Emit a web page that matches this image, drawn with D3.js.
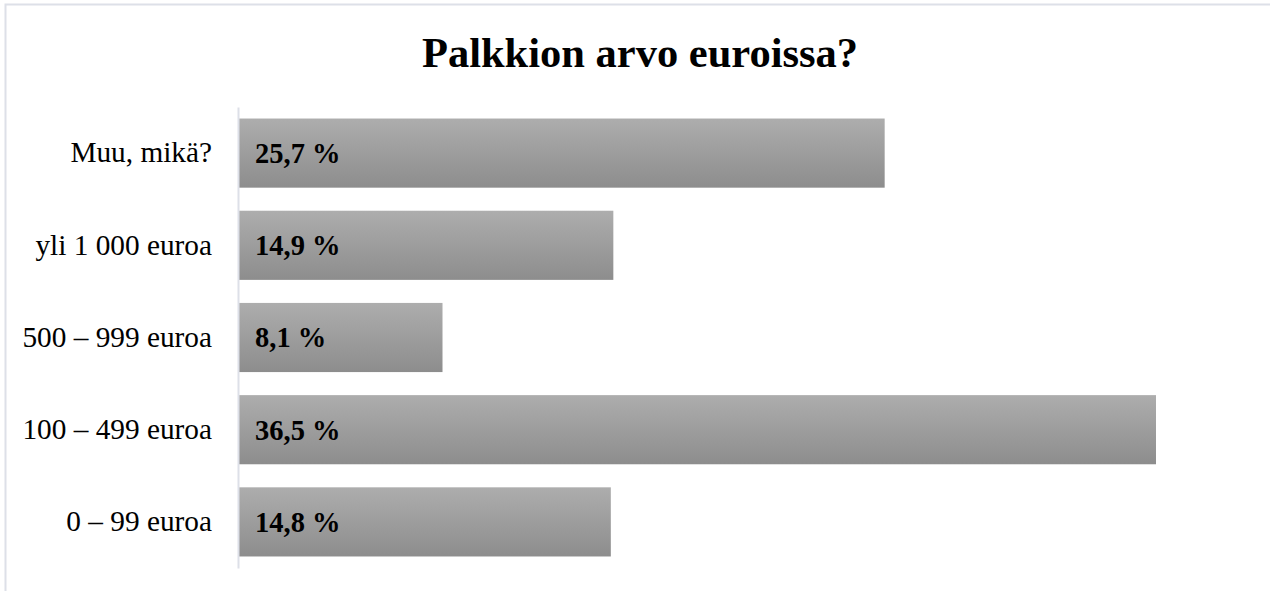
<!DOCTYPE html>
<html>
<head>
<meta charset="utf-8">
<script src="https://cdn.jsdelivr.net/npm/d3@7"></script>
<style>
  body { margin: 0; background: #fff; }
  svg text { font-family: "Liberation Serif", "Times New Roman", serif; }
</style>
</head>
<body>
<div id="chart"></div>
<script>
// Palkkion arvo euroissa? - horizontal bar chart

const categories = ['Muu, mikä?', 'yli 1 000 euroa', '500 – 999 euroa', '100 – 499 euroa', '0 – 99 euroa'];
const values = [25.7, 14.9, 8.1, 36.5, 14.8];
const valueLabels = ['25,7 %', '14,9 %', '8,1 %', '36,5 %', '14,8 %'];

const data = categories.map((c, i) => ({ category: c, value: values[i], label: valueLabels[i] }));

const width = 1270;
const height = 591;
const margin = { left: 239, top: 107, right: 20, bottom: 23 };

const svg = d3.select('#chart').append('svg')
  .attr('width', width)
  .attr('height', height);

// outer frame
svg.append('rect')
  .attr('x', 5.5).attr('y', 4.5)
  .attr('width', width + 10).attr('height', height + 10)
  .attr('fill', 'none')
  .attr('stroke', '#dde0e8')
  .attr('stroke-width', 2);

const defs = svg.append('defs');
const grad = defs.append('linearGradient')
  .attr('id', 'barGrad')
  .attr('x1', 0).attr('y1', 0).attr('x2', 0).attr('y2', 1);
grad.append('stop').attr('offset', '0%').attr('stop-color', '#adadad');
grad.append('stop').attr('offset', '100%').attr('stop-color', '#8d8d8d');

const x = d3.scaleLinear()
  .domain([0, 36.5])
  .range([margin.left, 1156]);

const y = d3.scaleBand()
  .domain(categories)
  .range([margin.top, height - margin.bottom])
  .paddingInner(0.25)
  .paddingOuter(0.125);

// title
svg.append('text')
  .attr('x', 640)
  .attr('y', 67)
  .attr('text-anchor', 'middle')
  .attr('font-size', 42.5)
  .attr('font-weight', 'bold')
  .attr('fill', '#000')
  .text('Palkkion arvo euroissa?');

// bars
svg.append('g')
  .selectAll('rect')
  .data(data)
  .enter()
    .append('rect')
    .attr('x', x(0))
    .attr('y', d => y(d.category))
    .attr('width', d => x(d.value) - x(0))
    .attr('height', y.bandwidth())
    .attr('fill', 'url(#barGrad)');

// value labels
svg.append('g')
  .selectAll('text')
  .data(data)
  .enter()
    .append('text')
    .attr('x', x(0) + 16)
    .attr('y', d => y(d.category) + y.bandwidth() / 2)
    .attr('dy', '0.35em')
    .attr('font-size', 28.5)
    .attr('font-weight', 'bold')
    .attr('fill', '#000')
    .text(d => d.label);

// category axis
const axis = svg.append('g')
  .attr('transform', `translate(${margin.left - 1}, 0)`)
  .call(d3.axisLeft(y).tickSize(0).tickPadding(26));
axis.select('.domain')
  .attr('stroke', '#dde0e8')
  .attr('stroke-width', 2);
axis.selectAll('text')
  .attr('font-family', '"Liberation Serif", serif')
  .attr('font-size', 29.3)
  .attr('fill', '#000');
</script>
</body>
</html>
